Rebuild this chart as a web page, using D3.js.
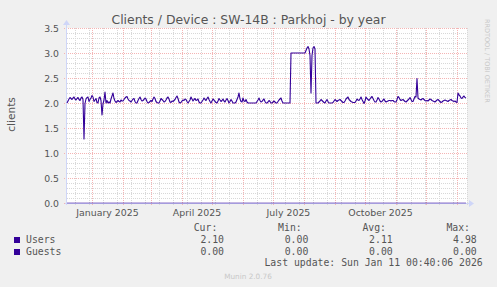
<!DOCTYPE html>
<html><head><meta charset="utf-8">
<script src="https://cdn.jsdelivr.net/npm/d3@7"></script>
<style>
html,body{margin:0;padding:0;background:#F0F0F0;}
svg{display:block;}
</style></head>
<body>
<script>
// ---- data (one consolidated point per day, from 2024-12-07) ----
const startDate = "2024-12-07T00:40:06Z";
const endDate = "2026-01-11T00:40:06Z";
const users = [
2.00,2.04,2.08,2.11,2.09,2.07,2.10,2.12,2.08,2.06,
2.09,2.11,2.07,2.05,2.10,2.12,2.07,1.28,1.99,2.08,
2.11,2.12,2.03,2.07,2.10,2.15,2.12,2.03,2.06,2.09,
2.01,2.00,2.10,2.12,2.05,1.76,1.98,2.06,2.22,2.00,
2.05,2.00,2.02,2.00,2.08,2.14,2.20,2.09,2.04,2.01,
2.03,2.05,2.03,2.02,2.06,2.04,2.04,2.07,2.10,2.12,
2.13,2.08,2.05,2.04,2.02,2.05,2.08,2.09,2.03,2.00,
2.00,2.05,2.09,2.12,2.07,2.04,2.05,2.07,2.10,2.08,
2.03,2.00,2.01,2.03,2.05,2.03,2.08,2.12,2.09,2.03,
2.01,2.00,2.00,2.04,2.09,2.07,2.05,2.02,2.03,2.06,
2.10,2.12,2.08,2.02,2.01,2.04,2.03,2.05,2.07,2.11,
2.14,2.09,2.02,2.00,2.01,2.04,2.06,2.05,2.08,2.07,
2.03,2.00,2.03,2.06,2.12,2.08,2.04,2.07,2.09,2.05,
2.06,2.08,2.02,2.00,2.00,2.03,2.06,2.10,2.07,2.05,
2.09,2.12,2.07,2.03,2.00,2.04,2.08,2.06,2.03,2.01,
2.00,2.04,2.09,2.06,2.03,2.05,2.08,2.04,2.02,2.06,
2.09,2.05,2.00,2.03,2.07,2.04,2.00,2.00,2.00,2.02,
2.07,2.12,2.20,2.08,2.03,2.02,2.10,2.04,2.03,2.07,
2.02,2.00,2.00,2.00,2.00,2.00,2.00,2.00,2.00,2.00,
2.03,2.06,2.10,2.05,2.02,2.03,2.06,2.08,2.03,2.00,
2.00,2.02,2.05,2.03,2.00,2.00,2.02,2.04,2.02,2.00,
2.00,2.03,2.06,2.08,2.10,2.04,2.00,2.00,2.00,2.00,
2.00,2.00,2.00,2.00,3.00,3.00,3.00,3.00,3.00,3.00,
3.00,3.00,3.00,3.00,3.00,3.00,3.00,3.00,3.00,3.05,
3.10,3.13,3.08,2.95,2.20,2.95,3.10,3.13,3.08,2.00,
2.00,2.00,2.02,2.04,2.07,2.05,2.03,2.01,2.00,2.04,
2.07,2.03,2.00,2.00,2.00,2.00,2.01,2.04,2.07,2.05,
2.03,2.05,2.06,2.07,2.05,2.03,2.01,2.01,2.04,2.08,
2.10,2.12,2.07,2.05,2.03,2.02,2.01,2.01,2.01,2.04,
2.08,2.06,2.05,2.08,2.12,2.07,2.03,1.99,2.04,2.12,
2.09,2.07,2.05,2.08,2.11,2.13,2.09,2.05,2.02,2.02,
2.06,2.11,2.08,2.04,2.02,2.03,2.06,2.08,2.04,2.02,
2.03,2.04,2.05,2.05,2.04,2.05,2.05,2.03,2.02,2.02,
2.07,2.13,2.11,2.07,2.05,2.06,2.07,2.05,2.03,2.02,
2.04,2.06,2.08,2.11,2.07,2.03,2.03,2.08,2.13,2.12,
2.49,2.10,2.08,2.07,2.06,2.08,2.09,2.07,2.05,2.04,
2.05,2.04,2.06,2.08,2.07,2.05,2.04,2.03,2.02,2.04,
2.06,2.07,2.05,2.03,2.01,2.02,2.04,2.05,2.06,2.05,
2.04,2.03,2.05,2.06,2.07,2.05,2.04,2.03,2.04,2.02,
2.01,2.20,2.16,2.14,2.10,2.09,2.12,2.14,2.11,2.10
];
const guests = users.map(() => 0); // all zero in the reference
const seriesNames = ["Users", "Guests"];
const seriesColors = ["#330099", "#330099"];
const statHeaders = ["Cur:", "Min:", "Avg:", "Max:"];
const usersStats = ["2.10", "0.00", "2.11", "4.98"];
const guestsStats = ["0.00", "0.00", "0.00", "0.00"];
const yTicks = [0.0, 0.5, 1.0, 1.5, 2.0, 2.5, 3.0, 3.5];
const xLabelMonths = ["2025-01-01", "2025-04-01", "2025-07-01", "2025-10-01"];
const titleText = "Clients / Device : SW-14B : Parkhoj - by year";
const yLabel = "clients";
const lastUpdate = "Last update: Sun Jan 11 00:40:06 2026";
const footer = "Munin 2.0.76";
const sideText = "RRDTOOL / TOBI OETIKER";

// ---- layout ----
const W = 497, H = 287;
const L = 67, R = 467, T = 28, B = 203;
const t0 = new Date(startDate), t1 = new Date(endDate);
const DAY = 86400000;
const dates = users.map((_, i) => new Date(t0.getTime() + i * DAY));

const x = d3.scaleUtc().domain([t0, t1]).range([L, R]);
const y = d3.scaleLinear().domain([0, 3.5]).range([B, T]);

const svg = d3.select("body").append("svg").attr("width", W).attr("height", H)
  .style("font-family", "'DejaVu Sans', sans-serif");
svg.append("rect").attr("width", W).attr("height", H).attr("fill", "#F0F0F0");
svg.append("rect").attr("x", L).attr("y", T).attr("width", R - L).attr("height", B - T).attr("fill", "#FFFFFF");

const px = v => Math.round(v) + 0.5;

// minor horizontal grid (0.1)
const minorY = d3.range(1, 35).map(k => k / 10).filter(v => Math.abs(v * 2 - Math.round(v * 2)) > 1e-6);
svg.append("g").selectAll("line").data(minorY).join("line")
  .attr("x1", L).attr("x2", R).attr("y1", d => px(y(d))).attr("y2", d => px(y(d)))
  .attr("stroke", "#d8d8d8").attr("stroke-dasharray", "1,1");
// minor vertical grid (every 2 weeks, Sundays)
const sundays = d3.utcSunday.range(t0, t1).filter((d, i) => i % 2 === 1);
svg.append("g").selectAll("line").data(sundays).join("line")
  .attr("x1", d => px(x(d))).attr("x2", d => px(x(d))).attr("y1", T).attr("y2", B + 3)
  .attr("stroke", "#d8d8d8").attr("stroke-dasharray", "1,1");
// major horizontal grid (0.5)
const majCol = "#f4b4b4";
svg.append("g").selectAll("line").data(yTicks).join("line")
  .attr("x1", L - 3).attr("x2", R).attr("y1", d => px(y(d))).attr("y2", d => px(y(d)))
  .attr("stroke", majCol).attr("stroke-dasharray", "1,1");
// major vertical grid (months)
const months = d3.utcMonth.range(t0, t1);
svg.append("g").selectAll("line").data(months).join("line")
  .attr("x1", d => px(x(d))).attr("x2", d => px(x(d))).attr("y1", T).attr("y2", B + 3)
  .attr("stroke", majCol).attr("stroke-dasharray", "1,1");

// axes
const axisCol = "#CFD6F8";
svg.append("line").attr("x1", L - 2).attr("x2", R + 3).attr("y1", B + 0.5).attr("y2", B + 0.5).attr("stroke", axisCol);
svg.append("line").attr("x1", L - 0.5).attr("x2", L - 0.5).attr("y1", B + 2).attr("y2", T - 5).attr("stroke", axisCol);
svg.append("path").attr("d", `M${R + 2},${B - 3} L${R + 7},${B + 0.5} L${R + 2},${B + 4} Z`).attr("fill", axisCol);
svg.append("path").attr("d", `M${L - 4},${T - 3} L${L - 0.5},${T - 8} L${L + 3},${T - 3} Z`).attr("fill", axisCol);

// lines
const line = d3.line().x((d, i) => x(dates[i])).y(d => y(d));
svg.append("path").datum(guests).attr("d", line).attr("fill", "none")
  .attr("stroke", seriesColors[1]).attr("stroke-opacity", 0.55).attr("stroke-width", 1);
svg.append("path").datum(users).attr("d", line).attr("fill", "none")
  .attr("stroke", seriesColors[0]).attr("stroke-width", 1.1).attr("stroke-linejoin", "round");

// y tick labels
svg.append("g").selectAll("text").data(yTicks).join("text")
  .attr("x", 59).attr("y", d => y(d) + 3.5).attr("text-anchor", "end")
  .attr("font-size", "9.3px").attr("fill", "#555").text(d => d.toFixed(1));
// x labels (centered mid-month)
svg.append("g").selectAll("text").data(xLabelMonths).join("text")
  .attr("x", d => { const m = new Date(d + "T00:00:00Z"); return (x(m) + x(d3.utcMonth.offset(m, 1))) / 2; })
  .attr("y", 215.5).attr("text-anchor", "middle").attr("font-size", "9.4px").attr("fill", "#555")
  .text(d => d3.utcFormat("%B %Y")(new Date(d + "T00:00:00Z")));

// title
svg.append("text").attr("x", 248.5).attr("y", 24).attr("text-anchor", "middle")
  .attr("font-size", "12.4px").attr("fill", "#555").text(titleText);
// y label
svg.append("text").attr("transform", "translate(15,114.5) rotate(-90)").attr("text-anchor", "middle")
  .attr("font-size", "10.6px").attr("fill", "#555").text(yLabel);
// side text
svg.append("text").attr("transform", "translate(484.5,19) rotate(90)").attr("text-anchor", "start")
  .attr("font-size", "6.5px").attr("fill", "#c8c8c8").text(sideText);

// legend
const mono = "'DejaVu Sans Mono', monospace";
const legFs = "9.8px";
const headEnds = [217.3, 301.7, 386, 470];
const valEnds = [224, 308.3, 392.7, 476.7];
svg.append("g").selectAll("text").data(statHeaders).join("text")
  .attr("x", (d, i) => headEnds[i]).attr("y", 231).attr("text-anchor", "end")
  .attr("font-family", mono).attr("font-size", legFs).attr("fill", "#555").text(d => d);
const rows = [usersStats, guestsStats];
rows.forEach((vals, r) => {
  const by = 243 + r * 12;
  svg.append("rect").attr("x", 14).attr("y", by - 6).attr("width", 6).attr("height", 6).attr("fill", seriesColors[r]);
  svg.append("text").attr("x", 26).attr("y", by).attr("font-family", mono).attr("font-size", legFs)
    .attr("fill", "#555").text(seriesNames[r]);
  svg.append("g").selectAll("text").data(vals).join("text")
    .attr("x", (d, i) => valEnds[i]).attr("y", by).attr("text-anchor", "end")
    .attr("font-family", mono).attr("font-size", legFs).attr("fill", "#555").text(d => d);
});
svg.append("text").attr("x", 482.7).attr("y", 266).attr("text-anchor", "end")
  .attr("font-family", mono).attr("font-size", legFs).attr("fill", "#555").text(lastUpdate);
svg.append("text").attr("x", 248).attr("y", 278.5).attr("text-anchor", "middle")
  .attr("font-size", "7.3px").attr("fill", "#c8c8c8").text(footer);
</script>
</body></html>
